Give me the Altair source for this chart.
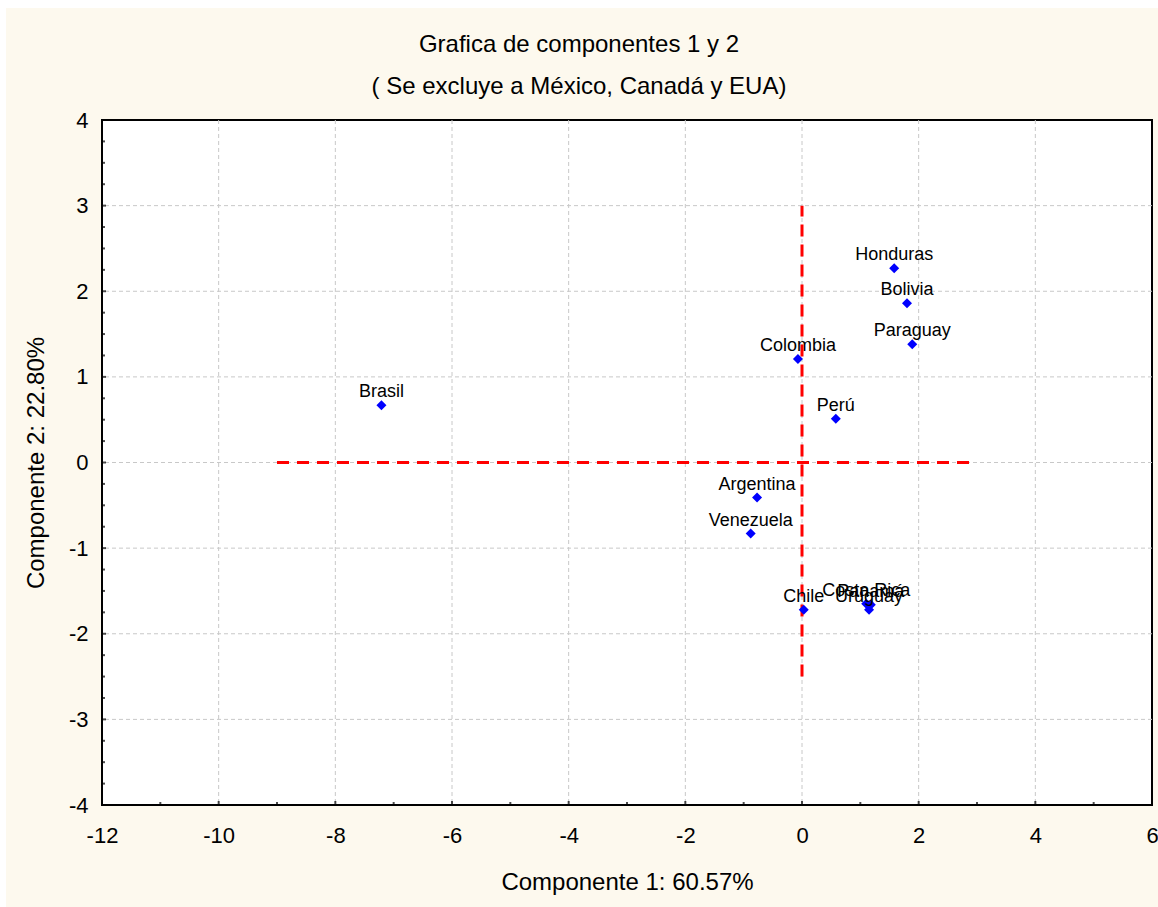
import altair as alt
import pandas as pd

countries = ["Brasil", "Colombia", "Perú", "Honduras", "Bolivia", "Paraguay",
             "Argentina", "Venezuela", "Chile", "Costa Rica", "Panamá", "Uruguay"]
comp1 = [-7.21, -0.07, 0.58, 1.58, 1.80, 1.89, -0.77, -0.88, 0.03, 1.10, 1.18, 1.15]
comp2 = [0.67, 1.21, 0.51, 2.27, 1.86, 1.38, -0.41, -0.83, -1.72, -1.65, -1.66, -1.72]

x_major = [-12, -10, -8, -6, -4, -2, 0, 2, 4, 6]
y_major = [-4, -3, -2, -1, 0, 1, 2, 3, 4]
x_minor = [-11, -9, -7, -5, -3, -1, 1, 3, 5]
y_minor = [v / 4 for v in range(-16, 17) if v % 4 != 0]

hline_x = [-9, 3]
hline_y = [0]
vline_x = [0]
vline_y = [-2.5, 3]

title_lines = ["Grafica de componentes 1 y 2", "( Se excluye a México, Canadá y EUA)"]
x_title = "Componente 1: 60.57%"
y_title = "Componente 2: 22.80%"

W, H = 1050, 685
FONT = "Liberation Sans"

xs = alt.Scale(domain=[-12, 6], nice=False, zero=False)
ys = alt.Scale(domain=[-4, 4], nice=False, zero=False)

pts = pd.DataFrame({"pais": countries, "c1": comp1, "c2": comp2})
one = pd.DataFrame({"a": [0]})

cream = alt.Chart(one).mark_rect(color="#fdf9ee").encode(
    x=alt.value(-96), x2=alt.value(W + 6), y=alt.value(-112), y2=alt.value(H + 102))
plotbg = alt.Chart(one).mark_rect(fill="white", stroke="black", strokeWidth=2).encode(
    x=alt.value(0), x2=alt.value(W), y=alt.value(0), y2=alt.value(H))

title1 = alt.Chart(pd.DataFrame({"t": [title_lines[0]]})).mark_text(
    font=FONT, fontSize=24, color="black", baseline="middle", align="center").encode(
    text="t:N", x=alt.value(477), y=alt.value(-75))
title2 = alt.Chart(pd.DataFrame({"t": [title_lines[1]]})).mark_text(
    font=FONT, fontSize=24, color="black", baseline="middle", align="center").encode(
    text="t:N", x=alt.value(477), y=alt.value(-33))

axis_common = dict(grid=False, ticks=False, domain=False,
                   labelFontSize=22, labelFont=FONT, labelColor="black",
                   labelExpr="'' + datum.value", labelFlush=False, labelOverlap=False,
                   titleFont=FONT, titleFontSize=24, titleFontWeight="normal",
                   titleColor="black", zindex=1)

gridx = alt.Chart(pd.DataFrame({"v": x_major[1:-1]})).mark_rule(
    color="#c8c8c8", strokeDash=[4, 3], strokeWidth=1).encode(
    x=alt.X("v:Q", scale=xs, axis=alt.Axis(
        values=x_major, title=x_title, labelPadding=20, titlePadding=24, **axis_common)))
gridy = alt.Chart(pd.DataFrame({"v": y_major[1:-1]})).mark_rule(
    color="#c8c8c8", strokeDash=[4, 3], strokeWidth=1).encode(
    y=alt.Y("v:Q", scale=ys, axis=alt.Axis(
        values=y_major, title=y_title, labelPadding=14, titlePadding=20, **axis_common)))

hdf = pd.DataFrame({"x1": [hline_x[0]], "x2": [hline_x[1]], "y": hline_y})
vdf = pd.DataFrame({"x": vline_x, "y1": [vline_y[0]], "y2": [vline_y[1]]})
hline = alt.Chart(hdf).mark_rule(color="red", strokeWidth=3, strokeDash=[12, 8]).encode(
    x=alt.X("x1:Q", scale=xs), x2="x2:Q", y=alt.Y("y:Q", scale=ys))
vline = alt.Chart(vdf).mark_rule(color="red", strokeWidth=3, strokeDash=[12, 8]).encode(
    x=alt.X("x:Q", scale=xs), y=alt.Y("y1:Q", scale=ys), y2="y2:Q")

points = alt.Chart(pts).mark_point(shape="diamond", filled=True, color="#0000ff",
                                   size=100, opacity=1).encode(
    x=alt.X("c1:Q", scale=xs), y=alt.Y("c2:Q", scale=ys))
labels = alt.Chart(pts).mark_text(font=FONT, fontSize=18, color="black",
                                  baseline="alphabetic", dy=-8).encode(
    x=alt.X("c1:Q", scale=xs), y=alt.Y("c2:Q", scale=ys), text="pais:N")

def ticks_x(vals, size):
    return alt.Chart(pd.DataFrame({"v": vals, "b": [-4] * len(vals)})).mark_tick(
        orient="vertical", color="black", thickness=2, size=size, clip=True).encode(
        x=alt.X("v:Q", scale=xs), y=alt.Y("b:Q", scale=ys))

def ticks_y(vals, size):
    return alt.Chart(pd.DataFrame({"v": vals, "b": [-12] * len(vals)})).mark_tick(
        orient="horizontal", color="black", thickness=2, size=size, clip=True).encode(
        y=alt.Y("v:Q", scale=ys), x=alt.X("b:Q", scale=xs))

chart = alt.layer(
    cream, plotbg, gridx, gridy, hline, vline, points, labels,
    ticks_x(x_major, 8), ticks_x(x_minor, 6), ticks_y(y_major, 8), ticks_y(y_minor, 6),
    title1, title2,
).properties(
    width=W, height=H,
    autosize=alt.AutoSizeParams(type="none"),
    padding={"left": 102, "top": 120, "right": 6, "bottom": 102},
    background="white",
).configure_view(stroke=None)

chart.save("out.html", embed_options={"renderer": "svg", "actions": False})
